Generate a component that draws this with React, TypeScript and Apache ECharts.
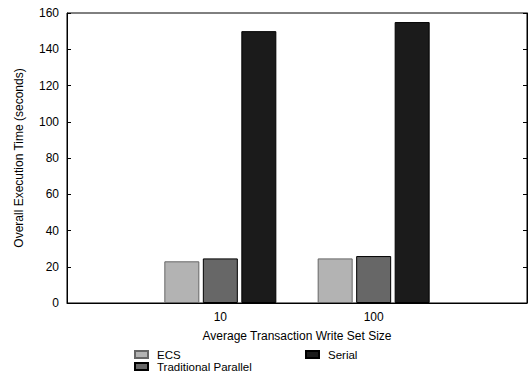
import React, { useEffect, useRef } from "react";
import * as echarts from "echarts";

const categories = ["10", "100"];
const ecsValues = [23, 24.6];
const traditionalValues = [24.6, 25.9];
const serialValues = [150, 155];
const yTicks = { min: 0, max: 160, interval: 20 };

const FONT = "Liberation Sans, Arial, Helvetica, sans-serif";
const FS = 12;

export default function App() {
  const ref = useRef<HTMLDivElement>(null);
  useEffect(() => {
    document.body.style.margin = "0";
    if (!ref.current) return;
    const chart = echarts.init(ref.current, undefined, { renderer: "svg" });
    const pad = (arr: any[]) => [null, ...arr, null];
    const cats = ["", ...categories, ""];
    const common = {
      type: "bar",
      barWidth: 35,
      barGap: "10%",
    };
    const legendText = { color: "#000", fontSize: 11.5, fontFamily: FONT, lineHeight: 12, padding: [0, 0, 0, 4] };
    chart.setOption({
      animation: false,
      backgroundColor: "#fff",
      textStyle: { fontFamily: FONT, color: "#000" },
      grid: {
        left: 67,
        right: 1,
        top: 13,
        bottom: 71,
        show: true,
        borderColor: "#000",
        borderWidth: 1,
        backgroundColor: "transparent",
      },
      xAxis: {
        type: "category",
        data: cats,
        boundaryGap: false,
        axisLine: { show: true, lineStyle: { color: "#000", width: 1 } },
        axisTick: { show: false },
        axisLabel: { color: "#000", fontSize: FS, fontFamily: FONT, margin: 8, interval: 0 },
        splitLine: { show: false },
        name: "Average Transaction Write Set Size",
        nameLocation: "middle",
        nameGap: 27,
        nameTextStyle: { color: "#000", fontSize: FS, fontFamily: FONT },
      },
      yAxis: [
        {
          type: "value",
          min: yTicks.min,
          max: yTicks.max,
          interval: yTicks.interval,
          axisLine: { show: true, lineStyle: { color: "#000", width: 1 } },
          axisTick: { show: true, inside: true, length: 4, lineStyle: { color: "#000" } },
          axisLabel: { color: "#000", fontSize: FS, fontFamily: FONT, margin: 8 },
          splitLine: { show: false },
          name: "Overall Execution Time (seconds)",
          nameLocation: "middle",
          nameGap: 42,
          nameRotate: 90,
          nameTextStyle: { color: "#000", fontSize: FS, fontFamily: FONT },
        },
        {
          type: "value",
          position: "right",
          min: yTicks.min,
          max: yTicks.max,
          interval: yTicks.interval,
          axisLine: { show: true, lineStyle: { color: "#000", width: 1 } },
          axisTick: { show: true, inside: true, length: 4, lineStyle: { color: "#000" } },
          axisLabel: { show: false },
          splitLine: { show: false },
        },
      ],
      legend: [
        {
          orient: "vertical",
          left: 134,
          top: 348.5,
          padding: 0,
          itemWidth: 13,
          itemHeight: 7,
          itemGap: 0,
          icon: "rect",
          textStyle: legendText,
          data: ["ECS", "Traditional Parallel"],
        },
        {
          orient: "vertical",
          left: 305,
          top: 348.5,
          padding: 0,
          itemWidth: 13,
          itemHeight: 7,
          itemGap: 0,
          icon: "rect",
          textStyle: legendText,
          data: ["Serial"],
        },
      ],
      series: [
        {
          ...common,
          name: "ECS",
          data: pad(ecsValues),
          itemStyle: { color: "#b3b3b3", borderColor: "#666", borderWidth: 1 },
        },
        {
          ...common,
          name: "Traditional Parallel",
          data: pad(traditionalValues),
          itemStyle: { color: "#676767", borderColor: "#000", borderWidth: 1 },
        },
        {
          ...common,
          name: "Serial",
          data: pad(serialValues),
          itemStyle: { color: "#1b1b1b", borderColor: "#000", borderWidth: 1 },
        },
      ],
    });
    return () => chart.dispose();
  }, []);
  return <div ref={ref} style={{ width: 530, height: 374 }} />;
}
